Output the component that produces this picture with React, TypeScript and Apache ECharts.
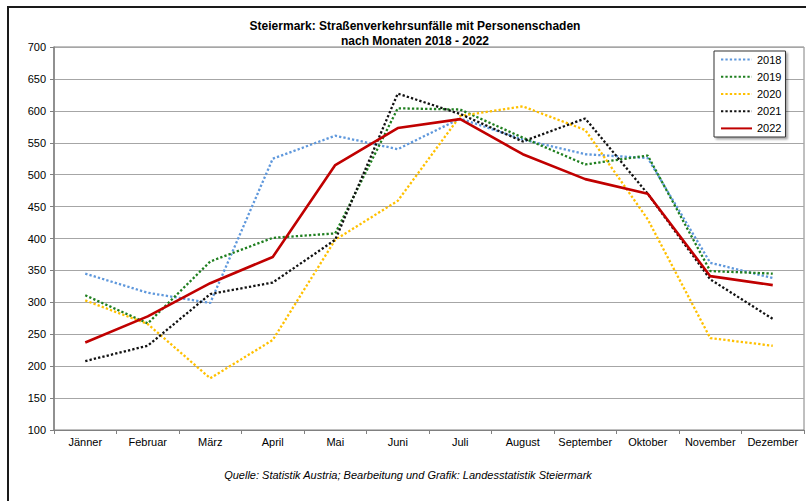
import React, { useEffect, useRef } from "react";
import * as echarts from "echarts";

const months = ["Jänner", "Februar", "März", "April", "Mai", "Juni", "Juli", "August", "September", "Oktober", "November", "Dezember"];
const years = ["2018", "2019", "2020", "2021", "2022"];
const v2018 = [345, 315, 299, 525, 561, 540, 588, 555, 532, 526, 362, 338];
const v2019 = [311, 267, 364, 401, 408, 604, 602, 558, 516, 530, 349, 345];
const v2020 = [303, 266, 181, 241, 398, 459, 592, 607, 570, 430, 244, 232];
const v2021 = [208, 232, 313, 331, 398, 627, 595, 552, 588, 470, 336, 274];
const v2022 = [237, 278, 330, 371, 515, 573, 587, 532, 493, 470, 341, 327];
const colors = ["#5f98dc", "#1f7f1f", "#ffc000", "#111111", "#c00000"];

const FONT = "'Liberation Sans', Arial, sans-serif";

export default function App() {
  const ref = useRef<HTMLDivElement>(null);
  useEffect(() => {
    document.body.style.margin = "0";
    const chart = echarts.init(ref.current!, null, { renderer: "svg" });
    const values = [v2018, v2019, v2020, v2021, v2022];
    const series = years.map((y, i) => ({
      name: y,
      type: "line",
      data: values[i],
      symbol: "none",
      lineStyle: i === 4
        ? { color: colors[i], width: 2.6, type: "solid" }
        : { color: colors[i], width: 2.3, type: [2.3, 2.1], cap: "butt" },
      itemStyle: { color: colors[i] },
    }));
    chart.setOption({
      animation: false,
      backgroundColor: "#ffffff",
      textStyle: { fontFamily: FONT },
      title: {
        text: "Steiermark: Straßenverkehrsunfälle mit Personenschaden\nnach Monaten 2018 - 2022",
        left: 410,
        top: 14,
        textAlign: "center",
        textStyle: { fontSize: 12, fontWeight: "bold", color: "#000", lineHeight: 14.5, fontFamily: FONT },
      },
      legend: {
        orient: "vertical",
        left: 714,
        top: 51,
        padding: [3, 4, 3, 6],
        itemGap: 6,
        itemWidth: 31,
        itemHeight: 14,
        backgroundColor: "#ffffff",
        borderColor: "#333333",
        borderWidth: 1,
        shadowColor: "rgba(0,0,0,0.35)",
        shadowOffsetX: 2,
        shadowOffsetY: 2,
        shadowBlur: 2,
        itemStyle: { opacity: 0 },
        textStyle: { fontSize: 11, color: "#000", fontFamily: FONT },
        data: years,
      },
      grid: {
        left: 54,
        top: 47,
        right: 2,
        bottom: 71,
        show: true,
        borderColor: "#808080",
        borderWidth: 1,
        containLabel: false,
      },
      xAxis: {
        type: "category",
        data: months,
        boundaryGap: true,
        axisLine: { lineStyle: { color: "#808080", width: 1 } },
        axisTick: { show: true, length: 4, interval: 0, lineStyle: { color: "#808080" } },
        axisLabel: { fontSize: 11, color: "#000", margin: 6, interval: 0, fontFamily: FONT },
        splitLine: { show: false },
      },
      yAxis: {
        type: "value",
        min: 100,
        max: 700,
        interval: 50,
        axisLine: { show: true, lineStyle: { color: "#808080", width: 1.5 } },
        axisTick: { show: true, length: 4, lineStyle: { color: "#808080" } },
        axisLabel: { fontSize: 11, color: "#000", margin: 8, fontFamily: FONT },
        splitLine: { show: true, lineStyle: { color: "#a6a6a6", width: 1.2 } },
      },
      graphic: [
        {
          type: "rect",
          shape: { x: 8, y: 7, width: 830, height: 530 },
          style: { fill: "none", stroke: "#1a1a1a", lineWidth: 2 },
          silent: true,
        },
        {
          type: "text",
          x: 408,
          y: 475,
          style: {
            text: "Quelle: Statistik Austria; Bearbeitung und Grafik: Landesstatistik Steiermark",
            font: "italic 11px " + FONT,
            fill: "#000",
            textAlign: "center",
            textVerticalAlign: "middle",
          },
        },
      ],
      series,
    });
    return () => chart.dispose();
  }, []);
  return <div ref={ref} style={{ width: 806, height: 501, position: "absolute", left: 0, top: 0 }} />;
}
